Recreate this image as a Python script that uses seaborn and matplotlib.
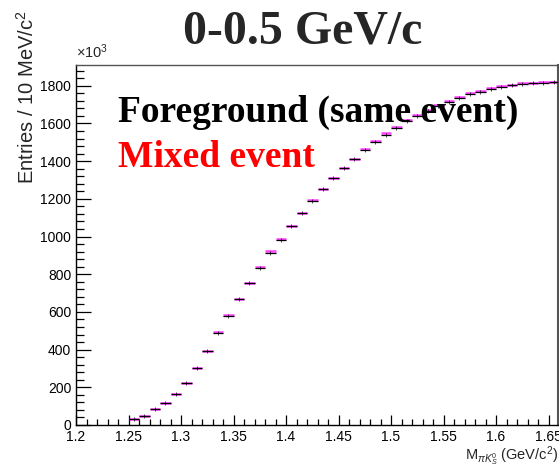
import numpy as np
import pandas as pd
import matplotlib
matplotlib.use("Agg")
import matplotlib.pyplot as plt
from matplotlib.ticker import MultipleLocator
import seaborn as sns

# Bin lower edges (GeV/c^2), bin width 10 MeV/c^2
bin_low = [1.25, 1.26, 1.27, 1.28, 1.29, 1.30, 1.31, 1.32, 1.33, 1.34,
           1.35, 1.36, 1.37, 1.38, 1.39, 1.40, 1.41, 1.42, 1.43, 1.44,
           1.45, 1.46, 1.47, 1.48, 1.49, 1.50, 1.51, 1.52, 1.53, 1.54,
           1.55, 1.56, 1.57, 1.58, 1.59, 1.60, 1.61, 1.62, 1.63, 1.64,
           1.65]

# Entries per bin (x10^3)
foreground = [30, 48, 83, 115, 163, 225, 301, 391, 490, 580,
              668, 752, 833, 911, 981, 1057, 1125, 1188, 1252, 1309,
              1362, 1411, 1459, 1501, 1540, 1576, 1611, 1639, 1667, 1692,
              1713, 1735, 1754, 1768, 1782, 1791, 1802, 1807, 1812, 1816,
              1818]
mixed = [30, 48, 83, 115, 164, 225, 302, 391, 491, 581,
         670, 756, 838, 921, 988, 1058, 1127, 1194, 1253, 1311,
         1365, 1413, 1466, 1509, 1547, 1583, 1616, 1645, 1673, 1697,
         1720, 1741, 1760, 1774, 1787, 1797, 1806, 1812, 1817, 1820,
         1822]

title = "0-0.5 GeV/c"
label_fg = "Foreground (same event)"
label_mix = "Mixed event"

bin_w = 0.01
df = pd.DataFrame({
    "mass": np.array(bin_low) + bin_w / 2,
    "fg": foreground,
    "mix": mixed,
})

sns.set_style("ticks")
plt.rcParams["font.family"] = ["Liberation Sans", "DejaVu Sans"]
plt.rcParams["mathtext.fontset"] = "custom"
plt.rcParams["mathtext.rm"] = "Liberation Sans"
plt.rcParams["mathtext.it"] = "Liberation Sans:italic"

W, H = 559, 467
fig = plt.figure(figsize=(W / 100, H / 100), dpi=100)
ax = fig.add_axes([76 / W, 1 - 425 / H, (558 - 76) / W, (425 - 65) / H])

# Mixed-event histogram: horizontal bin-width bars
ax.errorbar(df["mass"], df["mix"], xerr=bin_w / 2, fmt="none",
            ecolor="#ff00ff", elinewidth=1.8, alpha=0.75, capsize=0, zorder=2)
# Foreground histogram
ax.errorbar(df["mass"], df["fg"], xerr=bin_w / 2, fmt="none",
            ecolor="black", elinewidth=0.9, capsize=0, zorder=3)
sns.scatterplot(data=df, x="mass", y="fg", marker="|", s=8,
                color="black", linewidth=0.5, ax=ax, zorder=4, legend=False)

ax.set_xlim(1.2, 1.659)
ax.set_ylim(0, 1910)
ax.xaxis.set_major_locator(MultipleLocator(0.05))
ax.xaxis.set_minor_locator(MultipleLocator(0.01))
ax.yaxis.set_major_locator(MultipleLocator(200))
ax.yaxis.set_minor_locator(MultipleLocator(40))
ax.set_xticks(np.arange(1.2, 1.6501, 0.05))
ax.set_xticklabels(["1.2", "1.25", "1.3", "1.35", "1.4", "1.45", "1.5",
                    "1.55", "1.6", "1.65"])
ax.tick_params(axis="both", which="both", direction="in", top=False,
               right=False, labelsize=10, colors="black", pad=3.5)
ax.tick_params(axis="y", which="major", length=11, width=0.9)
ax.tick_params(axis="y", which="minor", length=5.5, width=0.9)
ax.tick_params(axis="x", which="major", length=7.5, width=0.9)
ax.tick_params(axis="x", which="minor", length=4, width=0.9)
for s in ax.spines.values():
    s.set_linewidth(1.0)
    s.set_color("black")
ax.spines["top"].set_color("#555555")
ax.spines["right"].set_color("#555555")
ax.spines["right"].set_linewidth(1.5)
ax.set_xlabel("")
ax.set_ylabel("")

fig.text(76 / W, 1 - 58 / H, r"$\times$10$^{3}$", fontsize=10.5,
         ha="left", va="baseline")
fig.text(27 / W, 1 - 10 / H, r"Entries / 10 MeV/c$^{2}$", fontsize=14.5,
         rotation=90, ha="center", va="top")
fig.text(558 / W, 1 - 460 / H, r"M$_{\pi K^{0}_{S}}$ (GeV/c$^{2}$)",
         fontsize=10.5, ha="right", va="baseline")

serif = ["Liberation Serif", "DejaVu Serif"]
fig.text(303 / W, 1 - 44 / H, title, fontsize=34.5, fontweight="bold",
         family=serif, ha="center", va="baseline")
fig.text(118 / W, 1 - 122 / H, label_fg, fontsize=27, fontweight="bold",
         family=serif, ha="left", va="baseline", color="black", zorder=1)
fig.text(118 / W, 1 - 167 / H, label_mix, fontsize=27, fontweight="bold",
         family=serif, ha="left", va="baseline", color="#ff0000")

fig.savefig("out.png", dpi=100)
